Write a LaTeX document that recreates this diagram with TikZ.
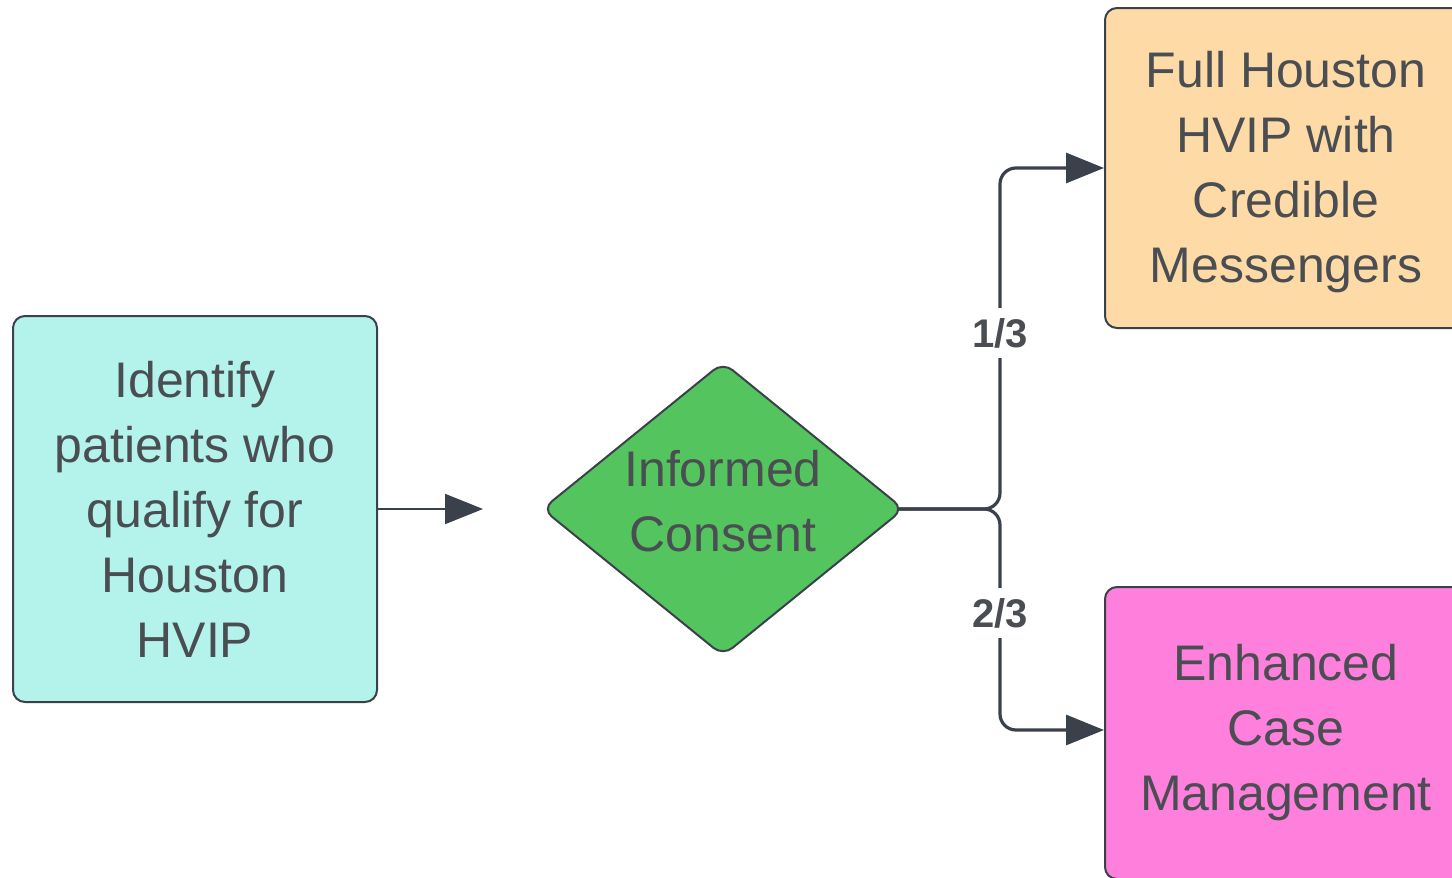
\documentclass[tikz,border=0pt]{standalone}
\usepackage{fontspec}
\setmainfont{Liberation Sans}
\usetikzlibrary{shapes.geometric,arrows.meta}
\definecolor{linec}{HTML}{3A414A}
\definecolor{textc}{HTML}{4A4E53}
\definecolor{cyanf}{HTML}{B3F3EB}
\definecolor{greenf}{HTML}{54C45E}
\definecolor{orangef}{HTML}{FEDBA6}
\definecolor{pinkf}{HTML}{FF7FDD}
\tikzset{
  box/.style={draw=linec, line width=1pt, rounded corners=6pt, inner sep=0pt,
    align=center, text=textc, font=\fontsize{25pt}{32.5pt}\selectfont},
  conn/.style={draw=linec, line width=1.6pt, rounded corners=8pt,
    -{Triangle[length=19pt,width=15pt]}},
  thinconn/.style={draw=linec, line width=1pt,
    -{Triangle[length=19pt,width=15pt]}},
  frac/.style={fill=white, inner sep=5pt, text=textc,
    font=\fontsize{20pt}{24pt}\selectfont\bfseries},
}
\begin{document}
\begin{tikzpicture}[x=0.5pt,y=-0.5pt]
\useasboundingbox (0,0) rectangle (1452,878);
\clip (0,0) rectangle (1452,878);
\node[box, fill=cyanf, minimum width=182pt, minimum height=193pt] (ident) at (195,509)
  {Identify\\patients who\\qualify for\\Houston\\HVIP};
\node[draw=linec, line width=1pt, fill=greenf, diamond, inner sep=0pt,
  minimum width=181pt, minimum height=147pt, rounded corners=6pt] (dia) at (723,509) {};
\node[text=textc, align=center, font=\fontsize{25pt}{32.5pt}\selectfont] (diatext) at (723,501)
  {Informed\\Consent};
\node[box, fill=orangef, minimum width=181pt, minimum height=160pt] (full) at (1286,168) {};
\node[text=textc, align=center, font=\fontsize{25pt}{32.5pt}\selectfont] (fulltext) at (1286,172)
  {Full Houston\\HVIP with\\Credible\\Messengers};
\node[box, fill=pinkf, minimum width=181pt, minimum height=146pt] (ecm) at (1286,733)
  {Enhanced\\Case\\Management};
\coordinate (arrend) at (483,509);
\coordinate (split) at (1000,509);
\draw[thinconn] (ident.east) -- (arrend);
\draw[conn] ([xshift=-3.5pt]dia.east) -- (split) |- (full.west);
\draw[conn] ([xshift=-3.5pt]dia.east) -- (split) |- ([yshift=1.5pt]ecm.west);
\node[frac] (l1) at (1000,333) {1/3};
\node[frac] (l2) at (1000,613) {2/3};
\end{tikzpicture}
\end{document}
